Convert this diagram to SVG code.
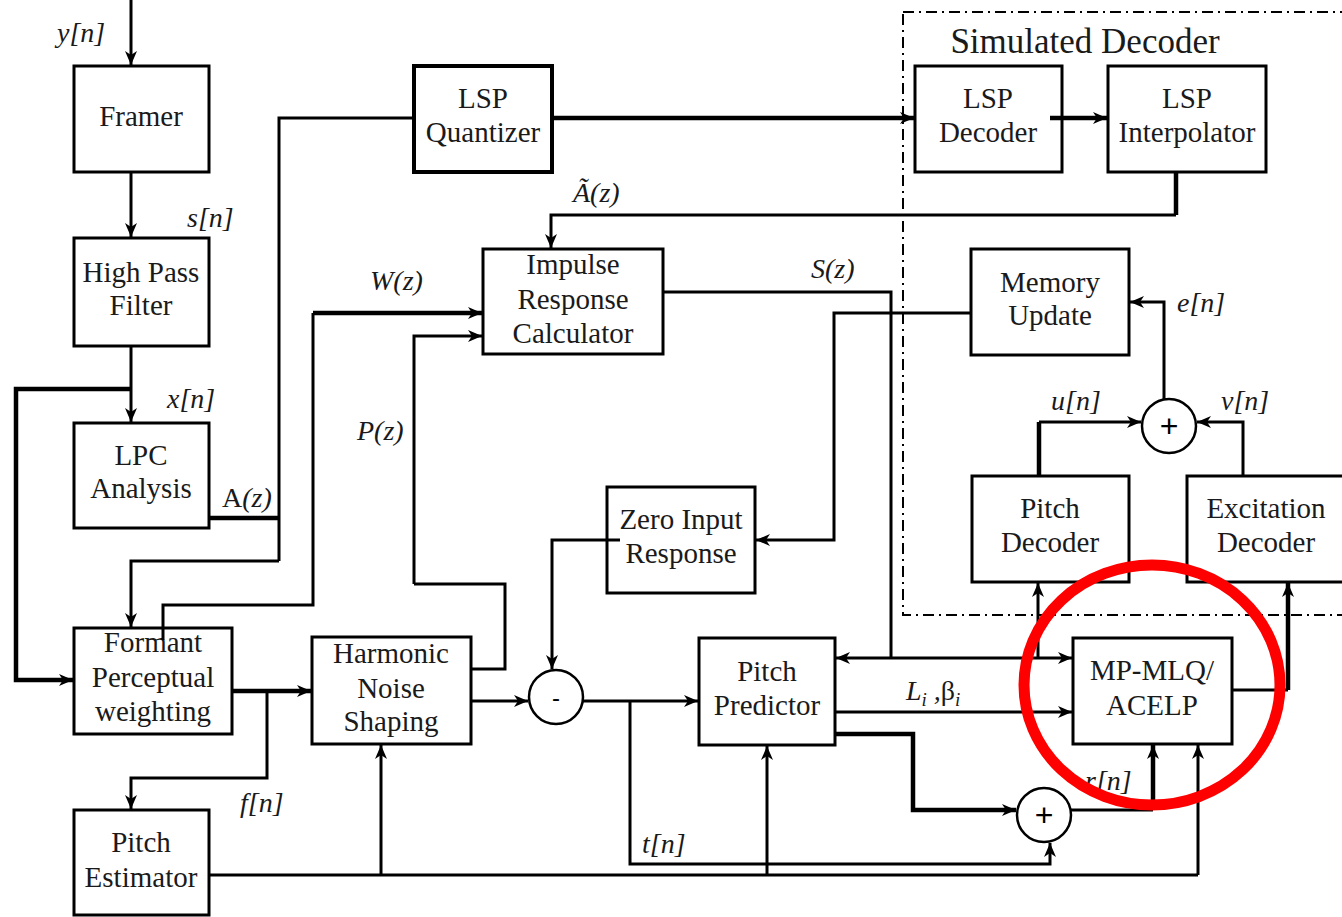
<svg xmlns="http://www.w3.org/2000/svg" width="1342" height="917" viewBox="0 0 1342 917">
<defs>
<style>
.box{fill:#fff;stroke:#000;stroke-width:3}
.bt{font-family:"Liberation Serif","Times New Roman",serif;font-size:29px;text-anchor:middle;fill:#1a1a1a}
.lb{font-family:"Liberation Serif","Times New Roman",serif;font-size:28px;font-style:italic;fill:#1a1a1a}
.c{fill:none;stroke:#000;stroke-width:3}
.k{fill:none;stroke:#000;stroke-width:4.5}
.a{marker-end:url(#ar)}
.sum{fill:#fff;stroke:#000;stroke-width:2.5}
</style>
<marker id="ar" markerUnits="userSpaceOnUse" markerWidth="16" markerHeight="12" refX="14" refY="6" orient="auto">
<path d="M0,0 L14,6 L0,12 L4,6 z" fill="#000"/>
</marker>
</defs>
<rect width="1342" height="917" fill="#fff"/>

<g id="simulated-decoder">
<rect x="903" y="12" width="450" height="603" fill="none" stroke="#000" stroke-width="2" stroke-dasharray="11,5,2,5"/>
<text x="1085" y="53" style="font-family:'Liberation Serif','Times New Roman',serif;font-size:35px;fill:#1a1a1a" text-anchor="middle">Simulated Decoder</text>
</g>

<g id="connectors">
<path class="c a" d="M131,0 V65"/>
<path class="c a" d="M131,173 V237"/>
<path class="c a" d="M131,346 V422"/>
<path class="k a" d="M131,389 H16 V680 H73"/>
<path class="k" d="M209,518 H279"/>
<path class="c" d="M414,118 H279 V561"/>
<path class="c a" d="M279,561 H131 V627"/>
<path class="c" d="M163,640 V605 H313 V313"/>
<path class="k a" d="M313,313 H482"/>
<path class="k a" d="M227,691 H311"/>
<path class="c a" d="M267,691 V778 H131 V809"/>
<path class="c" d="M471,669 H505 V584 H414"/>
<path class="c a" d="M414,584 V336 H482"/>
<path class="c a" d="M471,701 H528"/>
<path class="c a" d="M620,540 H552 V669"/>
<path class="c a" d="M971,313 H834 V540 H756"/>
<path class="c" d="M663,292 H891 V658"/>
<path class="c a" d="M891,658 H836"/>
<path class="c a" d="M891,658 H1072"/>
<path class="c a" d="M1038,658 V583"/>
<path class="c a" d="M835,712 H1072"/>
<path class="k a" d="M835,734 H913 V810 H1016"/>
<path class="c a" d="M583,701 H698"/>
<path class="c a" d="M630,701 V864 H1050 V843"/>
<path class="c" d="M209,875 H1198"/>
<path class="c a" d="M1198,875 V745"/>
<path class="c a" d="M381,875 V745"/>
<path class="c a" d="M767,875 V746"/>
<path class="c" d="M1071,810 H1153"/>
<path class="k a" d="M1153,810 V745"/>
<path class="c" d="M1232,690 H1288"/>
<path class="k a" d="M1288,690 V583"/>
<path class="k" d="M1039,476 V422"/>
<path class="c a" d="M1039,422 H1141"/>
<path class="c a" d="M1243,476 V422 H1197"/>
<path class="c a" d="M1164,399 V302 H1130"/>
<path class="k a" d="M552,118 H914"/>
<path class="k a" d="M1050,118 H1107"/>
<path class="k" d="M1176,172 V215"/>
<path class="c a" d="M1176,215 H551 V248"/>
</g>

<g id="labels">
<text class="lb" x="57" y="42">y[n]</text>
<text class="lb" x="187" y="227">s[n]</text>
<text class="lb" x="167" y="408">x[n]</text>
<text class="lb" x="222" y="507" style="font-style:normal">A<tspan style="font-style:italic">(z)</tspan></text>
<text class="lb" x="370" y="290">W(z)</text>
<text class="lb" x="357" y="440">P(z)</text>
<text class="lb" x="240" y="812">f[n]</text>
<text class="lb" x="642" y="853">t[n]</text>
<text class="lb" x="573" y="202">Ã(z)</text>
<text class="lb" x="811" y="278">S(z)</text>
<text class="lb" x="1177" y="312">e[n]</text>
<text class="lb" x="1051" y="410">u[n]</text>
<text class="lb" x="1221" y="410">v[n]</text>
<text class="lb" x="906" y="700">L<tspan dy="6" font-size="19">i</tspan><tspan dy="-6"> ,</tspan><tspan style="font-style:normal">β</tspan><tspan dy="6" font-size="19">i</tspan></text>
<text class="lb" x="1085" y="790">r[n]</text>
</g>

<g id="framer"><rect class="box" x="74" y="66" width="135" height="106"/><text class="bt" x="141" y="126">Framer</text></g>
<g id="high-pass-filter"><rect class="box" x="74" y="238" width="135" height="108"/><text class="bt" x="141" y="282">High Pass</text><text class="bt" x="141" y="315">Filter</text></g>
<g id="lpc-analysis"><rect class="box" x="74" y="423" width="135" height="105"/><text class="bt" x="141" y="465">LPC</text><text class="bt" x="141" y="498">Analysis</text></g>
<g id="formant"><rect class="box" x="74" y="628" width="158" height="106"/><text class="bt" x="153" y="652">Formant</text><text class="bt" x="153" y="687">Perceptual</text><text class="bt" x="153" y="721">weighting</text></g>
<path d="M163,640 V628" stroke="#000" stroke-width="3"/>
<g id="pitch-estimator"><rect class="box" x="74" y="810" width="135" height="105"/><text class="bt" x="141" y="852">Pitch</text><text class="bt" x="141" y="887">Estimator</text></g>
<g id="harmonic-noise-shaping"><rect class="box" x="312" y="637" width="159" height="107"/><text class="bt" x="391" y="663">Harmonic</text><text class="bt" x="391" y="698">Noise</text><text class="bt" x="391" y="731">Shaping</text></g>
<g id="lsp-quantizer"><rect class="box" x="414" y="66" width="138" height="106" style="stroke-width:4"/><text class="bt" x="483" y="108">LSP</text><text class="bt" x="483" y="142">Quantizer</text></g>
<g id="impulse-response"><rect class="box" x="483" y="249" width="180" height="105"/><text class="bt" x="573" y="274">Impulse</text><text class="bt" x="573" y="309">Response</text><text class="bt" x="573" y="343">Calculator</text></g>
<g id="zero-input-response"><rect class="box" x="607" y="487" width="148" height="106"/><text class="bt" x="681" y="529">Zero Input</text><text class="bt" x="681" y="563">Response</text></g>
<path d="M607,540 H620" stroke="#000" stroke-width="3"/>
<g id="minus"><circle class="sum" cx="556" cy="697" r="27"/><text x="556" y="706" style="font-family:'Liberation Sans',sans-serif;font-size:24px" text-anchor="middle">-</text></g>
<g id="pitch-predictor"><rect class="box" x="699" y="638" width="136" height="107"/><text class="bt" x="767" y="681">Pitch</text><text class="bt" x="767" y="715">Predictor</text></g>
<g id="lsp-decoder"><rect class="box" x="915" y="66" width="147" height="106"/><text class="bt" x="988" y="108">LSP</text><text class="bt" x="988" y="142">Decoder</text></g>
<path d="M1050,118 H1062" stroke="#000" stroke-width="4.5"/>
<g id="lsp-interpolator"><rect class="box" x="1108" y="66" width="158" height="106"/><text class="bt" x="1187" y="108">LSP</text><text class="bt" x="1187" y="142">Interpolator</text></g>
<g id="memory-update"><rect class="box" x="971" y="249" width="158" height="106"/><text class="bt" x="1050" y="292">Memory</text><text class="bt" x="1050" y="325">Update</text></g>
<g id="plus-top"><circle class="sum" cx="1169" cy="426" r="27"/><text x="1169" y="437" style="font-family:'Liberation Sans',sans-serif;font-size:32px" text-anchor="middle">+</text></g>
<g id="pitch-decoder"><rect class="box" x="972" y="476" width="157" height="106"/><text class="bt" x="1050" y="518">Pitch</text><text class="bt" x="1050" y="552">Decoder</text></g>
<g id="excitation-decoder"><rect class="box" x="1187" y="476" width="165" height="106"/><text class="bt" x="1266" y="518">Excitation</text><text class="bt" x="1266" y="552">Decoder</text></g>
<g id="mp-mlq-acelp"><rect class="box" x="1073" y="638" width="159" height="106"/><text class="bt" x="1152" y="680">MP-MLQ/</text><text class="bt" x="1152" y="715">ACELP</text></g>
<g id="plus-bottom"><circle class="sum" cx="1044" cy="815" r="27"/><text x="1044" y="826" style="font-family:'Liberation Sans',sans-serif;font-size:32px" text-anchor="middle">+</text></g>

<g id="highlight"><ellipse cx="1152" cy="685" rx="128" ry="120" fill="none" stroke="#ff0000" stroke-width="11"/></g>
</svg>
